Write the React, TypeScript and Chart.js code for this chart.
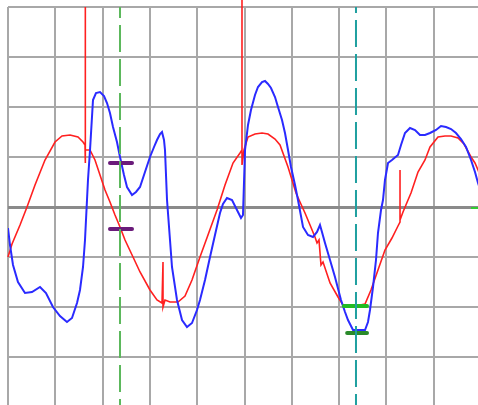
import React, { useEffect, useRef } from "react";
import { Chart, registerables } from "chart.js";

Chart.register(...registerables);

// Trace values in grid divisions (x: 0..10 div, y: -4..4 div)
const redX = [0, 0.085, 0.254, 0.402, 0.571, 0.782, 0.994, 1.142, 1.311, 1.48, 1.586, 1.628, 1.628, 1.628, 1.649, 1.734, 1.839, 1.945, 2.051, 2.156, 2.262, 2.368, 2.474, 2.643, 2.791, 3.002, 3.15, 3.256, 3.277, 3.277, 3.319, 3.425, 3.594, 3.742, 3.89, 4.059, 4.228, 4.419, 4.588, 4.757, 4.905, 4.947, 4.947, 4.947, 4.989, 5.074, 5.222, 5.37, 5.497, 5.645, 5.751, 5.92, 6.089, 6.173, 6.279, 6.385, 6.49, 6.533, 6.575, 6.617, 6.66, 6.808, 6.977, 7.082, 7.23, 7.442, 7.548, 7.674, 7.822, 7.97, 8.118, 8.245, 8.288, 8.288, 8.288, 8.351, 8.457, 8.52, 8.668, 8.816, 8.922, 9.091, 9.239, 9.366, 9.514, 9.641, 9.789, 9.873, 9.937, 10.0];
const redY = [-1.0, -0.74, -0.36, 0, 0.44, 0.94, 1.3, 1.42, 1.44, 1.4, 1.3, 1.24, 4.0, 0.88, 1.14, 1.14, 0.94, 0.64, 0.34, 0.1, -0.16, -0.4, -0.66, -1.0, -1.3, -1.66, -1.86, -1.92, -1.1, -2.0, -1.86, -1.9, -1.9, -1.78, -1.46, -1.0, -0.56, -0.06, 0.44, 0.88, 1.08, 1.14, 4.14, 0.84, 1.14, 1.4, 1.46, 1.48, 1.46, 1.36, 1.24, 0.8, 0.28, 0.1, -0.12, -0.36, -0.6, -0.72, -0.66, -1.16, -1.1, -1.52, -1.8, -1.96, -1.96, -1.96, -1.94, -1.66, -1.26, -0.86, -0.62, -0.38, -0.3, 0.74, -0.26, -0.1, 0.14, 0.28, 0.7, 0.94, 1.2, 1.4, 1.42, 1.42, 1.38, 1.26, 1.0, 0.88, 0.74, 0.58];

const blueX = [0, 0.042, 0.106, 0.211, 0.359, 0.507, 0.677, 0.803, 0.951, 1.099, 1.247, 1.353, 1.459, 1.522, 1.586, 1.628, 1.67, 1.691, 1.734, 1.797, 1.86, 1.945, 2.03, 2.093, 2.156, 2.22, 2.304, 2.368, 2.452, 2.516, 2.622, 2.706, 2.791, 2.896, 3.002, 3.087, 3.15, 3.214, 3.256, 3.298, 3.319, 3.362, 3.425, 3.467, 3.573, 3.679, 3.784, 3.89, 3.996, 4.059, 4.165, 4.271, 4.376, 4.482, 4.545, 4.63, 4.736, 4.841, 4.926, 4.968, 5.011, 5.074, 5.137, 5.222, 5.285, 5.37, 5.433, 5.497, 5.56, 5.645, 5.708, 5.793, 5.856, 5.92, 5.983, 6.068, 6.131, 6.237, 6.342, 6.448, 6.533, 6.596, 6.638, 6.702, 6.808, 6.913, 7.04, 7.125, 7.188, 7.294, 7.548, 7.611, 7.653, 7.717, 7.78, 7.822, 7.886, 7.928, 7.97, 8.034, 8.118, 8.245, 8.309, 8.393, 8.499, 8.605, 8.71, 8.816, 8.922, 9.049, 9.154, 9.26, 9.366, 9.471, 9.577, 9.683, 9.789, 9.873, 9.937, 10.0];
const blueY = [-0.42, -0.76, -1.16, -1.5, -1.72, -1.7, -1.6, -1.72, -2.0, -2.18, -2.3, -2.22, -1.92, -1.66, -1.2, -0.66, 0.14, 0.54, 1.14, 2.14, 2.28, 2.3, 2.22, 2.08, 1.88, 1.6, 1.3, 1.0, 0.64, 0.4, 0.24, 0.3, 0.4, 0.7, 1.0, 1.2, 1.34, 1.46, 1.5, 1.34, 1.14, 0.14, -0.66, -1.2, -1.86, -2.26, -2.4, -2.32, -2.06, -1.86, -1.46, -1.0, -0.56, -0.12, 0.06, 0.18, 0.14, -0.06, -0.22, -0.16, 1.14, 1.64, 1.94, 2.24, 2.4, 2.5, 2.52, 2.46, 2.38, 2.2, 2.0, 1.74, 1.48, 1.14, 0.8, 0.44, 0.14, -0.4, -0.56, -0.6, -0.5, -0.36, -0.5, -0.72, -1.06, -1.4, -1.86, -2.1, -2.26, -2.46, -2.46, -2.3, -2.06, -1.6, -1.06, -0.52, -0.06, 0.14, 0.54, 0.88, 0.94, 1.04, 1.24, 1.48, 1.58, 1.54, 1.44, 1.44, 1.48, 1.54, 1.62, 1.6, 1.56, 1.48, 1.36, 1.2, 0.94, 0.7, 0.48, 0.3];

// Cursors and markers
const cursorAX = 2.368;
const cursorBX = 7.357;
const purpleMarkX = [2.156, 2.622];
const purpleMarkY = [0.88, -0.44];
const greenHiX = [7.1, 7.59];
const greenHiY = -1.98;
const greenLoX = [7.17, 7.59];
const greenLoY = -2.52;
const levelX = [9.79, 10.0];
const levelY = -0.02;

const xTicks = [0, 1, 2, 3, 4, 5, 6, 7, 8, 9, 10];
const yTicks = [-4, -3, -2, -1, 0, 1, 2, 3, 4];

const pts = (xs: number[], ys: number[]) => xs.map((x, i) => ({ x, y: ys[i] }));
const seg = (xs: number[], y: number) => xs.map((x) => ({ x, y }));

export default function App() {
  const ref = useRef<HTMLCanvasElement | null>(null);

  useEffect(() => {
    if (!ref.current) return;
    const marker = (data: any[], color: string, order: number) => ({
      data,
      showLine: true,
      borderColor: color,
      backgroundColor: color,
      borderWidth: 4,
      borderCapStyle: "round" as const,
      pointRadius: 0,
      order,
    });
    const chart = new Chart(ref.current, {
      type: "scatter",
      data: {
        datasets: [
          {
            data: [
              { x: cursorAX, y: 4 },
              { x: cursorAX, y: -4 },
            ],
            showLine: true,
            borderColor: "#5cb85c",
            borderWidth: 2,
            borderDash: [27, 7],
            borderDashOffset: 16,
            pointRadius: 0,
            order: 0,
          },
          {
            data: [
              { x: cursorBX, y: 4 },
              { x: cursorBX, y: -4 },
            ],
            showLine: true,
            borderColor: "#20a0a0",
            borderWidth: 2,
            borderDash: [27, 7],
            borderDashOffset: 21,
            pointRadius: 0,
            order: 0,
          },
          marker(seg(purpleMarkX, purpleMarkY[0]), "#6a1b7a", 0),
          marker(seg(purpleMarkX, purpleMarkY[1]), "#6a1b7a", 0),
          marker(seg(greenHiX, greenHiY), "#22bb22", 0),
          marker(seg(greenLoX, greenLoY), "#2a8a2a", 0),
          {
            data: seg(levelX, levelY),
            showLine: true,
            borderColor: "#33cc33",
            borderWidth: 2,
            pointRadius: 0,
            order: 0,
          },
          {
            data: pts(blueX, blueY),
            showLine: true,
            borderColor: "#2a2aff",
            borderWidth: 2,
            pointRadius: 0,
            tension: 0,
            order: 2,
          },
          {
            data: pts(redX, redY),
            showLine: true,
            borderColor: "#ff2020",
            borderWidth: 1.6,
            pointRadius: 0,
            tension: 0,
            clip: false as any,
            order: 3,
          },
        ],
      },
      options: {
        animation: false,
        responsive: false,
        maintainAspectRatio: false,
        layout: { padding: { left: 8, top: 7, right: 9, bottom: 9 } },
        plugins: { legend: { display: false }, tooltip: { enabled: false } },
        elements: { point: { radius: 0 } },
        scales: {
          x: {
            type: "linear",
            min: 0,
            max: 10,
            afterBuildTicks: (s: any) => {
              s.ticks = xTicks.map((v) => ({ value: v }));
            },
            ticks: { display: false },
            border: { display: false },
            grid: { color: "#a8a8a8", lineWidth: 2, drawTicks: false },
          },
          y: {
            type: "linear",
            min: -4,
            max: 4,
            afterBuildTicks: (s: any) => {
              s.ticks = yTicks.map((v) => ({ value: v }));
            },
            ticks: { display: false },
            border: { display: false },
            grid: {
              color: (c: any) => (c.tick && c.tick.value === 0 ? "#8a8a8a" : "#a8a8a8"),
              lineWidth: (c: any) => (c.tick && c.tick.value === 0 ? 3 : 2),
              drawTicks: false,
            },
          },
        },
      },
    });
    return () => chart.destroy();
  }, []);

  return (
    <div
      style={{
        position: "fixed",
        left: 0,
        top: 0,
        width: 478,
        height: 405,
        overflow: "hidden",
        background: "#ffffff",
      }}
    >
      <canvas ref={ref} width={490} height={416} style={{ display: "block" }} />
    </div>
  );
}
